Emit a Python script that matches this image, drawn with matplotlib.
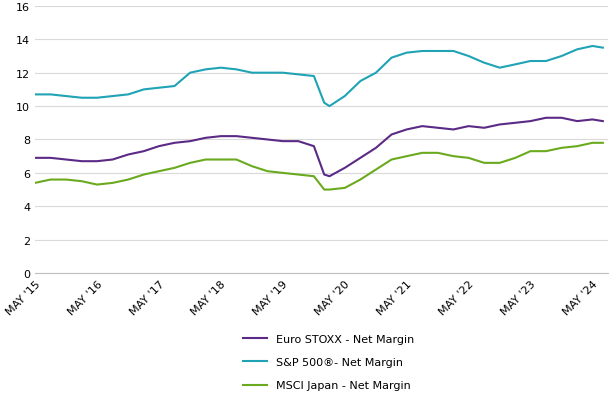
import matplotlib
matplotlib.use('Agg')
import matplotlib.pyplot as plt
import pandas as pd

dates = ['2015-05', '2015-08', '2015-11', '2016-02', '2016-05', '2016-08', '2016-11',
         '2017-02', '2017-05', '2017-08', '2017-11', '2018-02', '2018-05', '2018-08',
         '2018-11', '2019-02', '2019-05', '2019-08', '2019-11', '2020-01', '2020-02',
         '2020-05', '2020-08', '2020-11', '2021-02', '2021-05', '2021-08', '2021-11',
         '2022-02', '2022-05', '2022-08', '2022-11', '2023-02', '2023-05', '2023-08',
         '2023-11', '2024-02', '2024-05', '2024-07']
euro = [6.9, 6.9, 6.8, 6.7, 6.7, 6.8, 7.1, 7.3, 7.6, 7.8, 7.9, 8.1, 8.2, 8.2, 8.1, 8.0,
        7.9, 7.9, 7.6, 5.9, 5.8, 6.3, 6.9, 7.5, 8.3, 8.6, 8.8, 8.7, 8.6, 8.8, 8.7, 8.9,
        9.0, 9.1, 9.3, 9.3, 9.1, 9.2, 9.1]
sp500 = [10.7, 10.7, 10.6, 10.5, 10.5, 10.6, 10.7, 11.0, 11.1, 11.2, 12.0, 12.2, 12.3,
         12.2, 12.0, 12.0, 12.0, 11.9, 11.8, 10.2, 10.0, 10.6, 11.5, 12.0, 12.9, 13.2,
         13.3, 13.3, 13.3, 13.0, 12.6, 12.3, 12.5, 12.7, 12.7, 13.0, 13.4, 13.6, 13.5]
japan = [5.4, 5.6, 5.6, 5.5, 5.3, 5.4, 5.6, 5.9, 6.1, 6.3, 6.6, 6.8, 6.8, 6.8, 6.4, 6.1,
         6.0, 5.9, 5.8, 5.0, 5.0, 5.1, 5.6, 6.2, 6.8, 7.0, 7.2, 7.2, 7.0, 6.9, 6.6, 6.6,
         6.9, 7.3, 7.3, 7.5, 7.6, 7.8, 7.8]

x = pd.to_datetime(dates)
fig = plt.figure(figsize=(6.13, 4.06), dpi=100)
ax = fig.add_axes([0.057, 0.325, 0.935, 0.658])
ax.plot(x, euro, color='#5b2a86', lw=1.5, label='Euro STOXX - Net Margin')
ax.plot(x, sp500, color='#1fa3b5', lw=1.5, label='S&P 500\u00ae- Net Margin')
ax.plot(x, japan, color='#6aaa1e', lw=1.5, label='MSCI Japan - Net Margin')

ax.set_ylim(0, 16)
ax.set_yticks(range(0, 17, 2))
ax.set_xlim(pd.Timestamp('2015-05-01'), pd.Timestamp('2024-08-01'))
ticks = [pd.Timestamp(f'{y}-05-01') for y in range(2015, 2025)]
ax.set_xticks(ticks)
ax.set_xticklabels([f"MAY '{str(t.year)[2:]}" for t in ticks], rotation=45,
                   ha='right', rotation_mode='anchor', fontsize=8)
ax.tick_params(axis='y', labelsize=8, length=0)
ax.tick_params(axis='x', length=0)
ax.grid(axis='y', color='#d9d9d9', lw=0.8)
for s in ['top', 'right', 'left']:
    ax.spines[s].set_visible(False)
ax.spines['bottom'].set_color('#bfbfbf')

fig.legend(loc='upper left', bbox_to_anchor=(0.38, 0.2), frameon=False, fontsize=8,
           handlelength=2.2, labelspacing=1.2)
fig.savefig('out.png')
